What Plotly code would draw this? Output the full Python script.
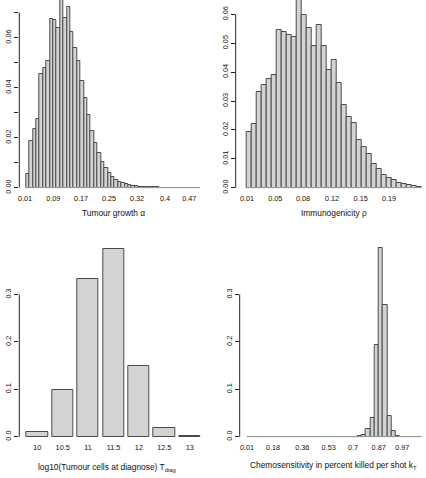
import plotly.graph_objects as go

W, H = 426, 478

# ---------------- data ----------------
growth_vals = [0.0055, 0.0188, 0.0233, 0.0273, 0.0453, 0.0477, 0.0508, 0.0673, 0.0671, 0.0637,
               0.0751, 0.0677, 0.0721, 0.0621, 0.0560, 0.0507, 0.0427, 0.0360, 0.0291, 0.0227,
               0.0180, 0.0137, 0.0104, 0.0077, 0.0057, 0.0041, 0.0031, 0.0023, 0.0017, 0.0013,
               0.0009, 0.0007, 0.0005, 0.0004, 0.0003, 0.0002, 0.00015, 0.0001, 0.0001, 0.00008,
               0.00006, 0.00005, 0.00004, 0.00003, 0.00003, 0.00002, 0.00002, 0.00001, 0.00001,
               0.00001, 0.00001]
growth_ticklabels = ["0.01", "0.09", "0.17", "0.25", "0.32", "0.4", "0.47"]
growth_yticks = [0.00, 0.02, 0.04, 0.06]
growth_ytext = ["0.00", "0.02", "0.04", "0.06"]
growth_yminor = [0.01, 0.03, 0.05, 0.07]

immuno_vals = [0.0194, 0.0219, 0.0330, 0.0355, 0.0375, 0.0389, 0.0544, 0.0540, 0.0528, 0.0520,
               0.0649, 0.0597, 0.0552, 0.0490, 0.0562, 0.0490, 0.0407, 0.0442, 0.0364, 0.0285,
               0.0244, 0.0223, 0.0166, 0.0140, 0.0117, 0.0081, 0.0065, 0.0044, 0.0035, 0.0026,
               0.0015, 0.0012, 0.0008, 0.0005, 0.0002]
immuno_ticklabels = ["0.01", "0.05", "0.08", "0.12", "0.15", "0.19"]
immuno_yticks = [0.00, 0.01, 0.02, 0.03, 0.04, 0.05, 0.06]
immuno_ytext = ["0.00", "0.01", "0.02", "0.03", "0.04", "0.05", "0.06"]

tdiag_cats = ["10", "10.5", "11", "11.5", "12", "12.5", "13"]
tdiag_vals = [0.0091, 0.0977, 0.3317, 0.3950, 0.1490, 0.0176, 0.0007]
tdiag_yticks = [0.0, 0.1, 0.2, 0.3]
tdiag_ytext = ["0.0", "0.1", "0.2", "0.3"]

chemo_vals = [0.0] * 26 + [0.0010, 0.0028, 0.0156, 0.0390, 0.1925, 0.3980, 0.2770, 0.0439,
                           0.0113, 0.0014, 0.0, 0.0, 0.0, 0.0, 0.0]
chemo_ticklabels = ["0.01", "0.18", "0.36", "0.53", "0.7", "0.87", "0.97"]
chemo_yticks = [0.0, 0.1, 0.2, 0.3]
chemo_ytext = ["0.0", "0.1", "0.2", "0.3"]

# ---------------- styling ----------------
FONT = "Liberation Sans, Arial, Helvetica, sans-serif"
FS = 7.3
TFS = 8.4
FILL = "#d3d3d3"
EDGE = "#4a4a4a"
PAD = 2.0  # px of plot area kept below the zero line so the baseline is not clipped

fig = go.Figure()


def add_panel(idx, vals, xpx, ytop_px, bar_left, bar_pitch, bar_width_frac,
              ytv, ytt, ypx_per_unit, y0px, xt_px, xt_text,
              baseline=True, yminor=None):
    n = len(vals)
    xs = list(range(n))
    xa = "x" if idx == 1 else f"x{idx}"
    ya = "y" if idx == 1 else f"y{idx}"
    fig.add_trace(go.Bar(x=xs, y=vals, xaxis=xa, yaxis=ya, width=bar_width_frac,
                         marker=dict(color=FILL, line=dict(color=EDGE, width=1)),
                         showlegend=False, hoverinfo="skip"))
    if baseline:
        fig.add_trace(go.Scatter(x=[-0.5, n - 0.5], y=[0, 0], xaxis=xa, yaxis=ya, mode="lines",
                                 line=dict(color="#a8a8a8", width=1), showlegend=False,
                                 hoverinfo="skip"))
    c0 = bar_left + bar_pitch * bar_width_frac / 2.0  # pixel of center of bar 0
    xa_l, xa_r = xpx
    xr = [(xa_l - c0) / bar_pitch, (xa_r - c0) / bar_pitch]
    yb = y0px + PAD
    yt = ytop_px
    yr = [(y0px - yb) / ypx_per_unit, (y0px - yt) / ypx_per_unit]
    tickvals = [(px - c0) / bar_pitch for px in xt_px]
    key_x = "xaxis" if idx == 1 else f"xaxis{idx}"
    key_y = "yaxis" if idx == 1 else f"yaxis{idx}"
    fig.layout[key_x] = dict(domain=[xa_l / W, xa_r / W], range=xr, anchor=ya,
                             automargin=False, fixedrange=True,
                             showgrid=False, zeroline=False, showline=False,
                             tickvals=tickvals, ticktext=xt_text, ticks="outside",
                             ticklen=2, tickcolor="rgba(0,0,0,0)",
                             tickfont=dict(family=FONT, size=FS, color="#111"))
    ydict = dict(domain=[1 - yb / H, 1 - yt / H], range=yr, anchor=xa,
                 automargin=False, fixedrange=True,
                 showgrid=False, zeroline=False, showline=False,
                 tickvals=ytv, ticktext=ytt, ticks="outside", ticklen=4,
                 tickcolor="#222", tickwidth=1, tickangle=-90,
                 tickfont=dict(family=FONT, size=FS, color="#111"))
    if yminor:
        ydict["minor"] = dict(tickvals=yminor, ticks="outside", ticklen=4,
                              tickcolor="#222", tickwidth=1, showgrid=False)
    fig.layout[key_y] = ydict
    alltv = list(ytv) + list(yminor or [])
    fig.add_shape(type="line", xref=f"{xa} domain", yref=ya, x0=0, x1=0,
                  y0=min(alltv), y1=max(alltv), line=dict(color="#222", width=1))


# Panel 1
add_panel(1, growth_vals, (19.3, 206), 0, 26.0, 3.41, 1.0,
          growth_yticks, growth_ytext, 2500.0, 187.7,
          [25, 53.3, 81, 109, 137, 165, 189.3], growth_ticklabels,
          yminor=growth_yminor)
# Panel 2
add_panel(2, immuno_vals, (235.7, 424), 0, 247.0, 4.98, 1.0,
          immuno_yticks, immuno_ytext, 2890.0, 187.7,
          [247, 275.3, 303, 332, 360.7, 389], immuno_ticklabels)
# Panel 3
add_panel(3, tdiag_vals, (19.3, 206), 240, 26.7, 25.4, 0.835,
          tdiag_yticks, tdiag_ytext, 474.0, 436.7,
          [26.7 + 25.4 * 0.835 / 2 + 25.4 * k for k in range(7)], tdiag_cats,
          baseline=False)
# Panel 4
add_panel(4, chemo_vals, (239.7, 424), 240, 247.3, 4.244, 1.0,
          chemo_yticks, chemo_ytext, 474.0, 436.7,
          [247, 273, 302.3, 328.7, 353, 378.7, 402.3], chemo_ticklabels)

titles = [
    (113, 213, "Tumour growth α"),
    (334, 213, "Immunogenicity ρ"),
    (107, 467, "log10(Tumour cells at diagnose) T<sub>diag</sub>"),
    (333, 465, "Chemosensitivity in percent killed per shot k<sub>T</sub>"),
]
for (tx, ty, tt) in titles:
    fig.add_annotation(x=tx / W, y=1 - ty / H, xref="paper", yref="paper", text=tt,
                       showarrow=False, xanchor="center", yanchor="middle",
                       font=dict(family=FONT, size=TFS, color="#111"))

fig.update_layout(width=W, height=H, margin=dict(l=0, r=0, t=0, b=0),
                  paper_bgcolor="white", plot_bgcolor="white", bargap=0,
                  showlegend=False)

fig.write_html("out.html", config={"displayModeBar": False},
               post_script="document.body.style.margin='0';document.body.style.padding='0';")
